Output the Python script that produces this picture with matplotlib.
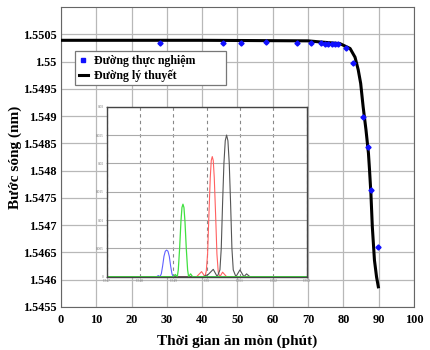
import matplotlib
matplotlib.use('Agg')
import matplotlib.pyplot as plt
from matplotlib.ticker import FuncFormatter, MultipleLocator

plt.rcParams['font.family'] = ['Liberation Serif', 'DejaVu Serif']

# measured points (etching time in minutes, wavelength in um)
exp_time = [28, 45.8, 50.9, 58, 66.8, 70.8, 73.8, 74.8, 75.7, 76.7, 77.6, 78.6,
            80.7, 82.8, 85.6, 86.9, 87.8, 89.9]
exp_wl = [1.55034, 1.55034, 1.55034, 1.55035, 1.55034, 1.55034, 1.55034, 1.55033,
          1.55033, 1.55033, 1.55032, 1.55032, 1.55024, 1.54998, 1.54899, 1.54843,
          1.54765, 1.54660]

# theory curve
th_time = [0, 40, 70, 73.4, 79.0, 81.9, 83.3, 84.2, 84.9, 85.6, 86.4, 87.1,
           87.4, 87.8, 88.2, 88.8, 89.4, 89.9]
th_wl = [1.55039, 1.55039, 1.55038, 1.55036, 1.55033, 1.55024, 1.55008, 1.54985,
         1.54960, 1.54917, 1.54875, 1.54832, 1.54802, 1.54758, 1.54697, 1.54636,
         1.54605, 1.54587]

y_ticks = [1.5455, 1.546, 1.5465, 1.547, 1.5475, 1.548, 1.5485, 1.549, 1.5495, 1.55, 1.5505]

# inset spectra (wavelength, power)
blue_x = [1.547, 1.5485, 1.54855, 1.5486, 1.54864, 1.54868, 1.54872, 1.54876, 1.5488,
          1.54884, 1.54888, 1.54892, 1.54896, 1.549, 1.54905, 1.5491, 1.553]
blue_y = [0, 0, 0.0002, 0, 0.0005, 0.0019, 0.0036, 0.0045, 0.0047,
          0.0045, 0.0036, 0.0019, 0.0005, 0, 0.0002, 0, 0]
green_x = [1.547, 1.5490, 1.54906, 1.54912, 1.54915, 1.54919, 1.54923, 1.54926, 1.54929,
           1.54932, 1.54935, 1.54939, 1.54943, 1.54946, 1.54952, 1.54958, 1.553]
green_y = [0, 0, 0.0004, 0, 0.0012, 0.0050, 0.0098, 0.0122, 0.0128,
           0.0122, 0.0098, 0.0050, 0.0012, 0, 0.0005, 0, 0]
red_x = [1.547, 1.5497, 1.54985, 1.54995, 1.54999, 1.55003, 1.55007, 1.55011, 1.55014,
         1.55017, 1.5502, 1.55023, 1.55027, 1.55031, 1.55035, 1.5504, 1.55048, 1.5506, 1.553]
red_y = [0, 0, 0.0009, 0, 0.0010, 0.0040, 0.0110, 0.0175, 0.0205,
         0.0212, 0.0205, 0.0175, 0.0110, 0.0040, 0.0008, 0, 0.0008, 0, 0]
black_x = [1.547, 1.5499, 1.55005, 1.5502, 1.55032, 1.5504, 1.55044, 1.55048, 1.55052,
           1.55056, 1.5506, 1.55064, 1.55068, 1.55072, 1.55076, 1.5508, 1.55088,
           1.551, 1.55112, 1.5512, 1.5513, 1.553]
black_y = [0, 0, 0.0004, 0.0013, 0, 0.0012, 0.0050, 0.0130, 0.0200,
           0.0240, 0.0250, 0.0240, 0.0200, 0.0130, 0.0050, 0.0012, 0,
           0.0012, 0, 0.0005, 0, 0]

fig = plt.figure(figsize=(4.31, 3.5), dpi=100)
ax = fig.add_axes([0.1415, 0.1229, 0.819, 0.857])

ax.plot(th_time, th_wl, color='black', lw=2.2, label='Đường lý thuyết', zorder=3)
ax.plot(exp_time, exp_wl, ls='none', marker='D', ms=2.6, color='#1010ff',
        label='Đường thực nghiệm', zorder=4)

ax.set_xlim(0, 100)
ax.set_ylim(1.5455, 1.551)
ax.xaxis.set_major_locator(MultipleLocator(10))
ax.set_yticks(y_ticks)
ax.yaxis.set_major_formatter(FuncFormatter(lambda v, p: '%g' % round(v, 4)))
ax.grid(True, color='#b8b8b8', lw=0.9)
ax.tick_params(length=0, labelsize=8.8)
ax.tick_params(axis='y', pad=3)
ax.tick_params(axis='x', pad=5)
for lab in ax.get_xticklabels() + ax.get_yticklabels():
    lab.set_fontweight('bold')
for s in ax.spines.values():
    s.set_color('#666666')
ax.set_xlabel('Thời gian ăn mòn (phút)', fontsize=11, fontweight='bold', labelpad=6)
ax.set_ylabel('Bước sóng (nm)', fontsize=11, fontweight='bold', labelpad=1)

handles, labels = ax.get_legend_handles_labels()
leg = ax.legend(handles[::-1], labels[::-1], loc='upper left',
                bbox_to_anchor=(0.04, 0.737, 0.427, 0.115), mode='expand',
                prop={'weight': 'bold', 'size': 8.6},
                fancybox=False, framealpha=1, edgecolor='#777777',
                handlelength=0.8, handletextpad=0.5, borderpad=0.3,
                labelspacing=0.2, markerscale=1.3, borderaxespad=0)
leg.get_frame().set_linewidth(0.9)
leg.legend_handles[0].set_marker('s')

# inset with the spectra
axi = fig.add_axes([0.2475, 0.2094, 0.4637, 0.4857])
axi.plot(blue_x, blue_y, color='#6060ff', lw=0.8)
axi.plot(red_x, red_y, color='#ff6060', lw=0.8)
axi.plot(black_x, black_y, color='#555555', lw=0.8)
axi.plot(green_x, green_y, color='#40e040', lw=0.9)
axi.set_xlim(1.547, 1.553)
axi.set_ylim(0, 0.03)
axi.set_xticks([1.547, 1.548, 1.549, 1.55, 1.551, 1.552, 1.553])
axi.set_xticklabels(['1.547', '1.548', '1.549', '1.55', '1.551', '1.552', '1.553'])
axi.set_yticks([0, 0.005, 0.01, 0.015, 0.02, 0.025, 0.03])
axi.set_yticklabels(['0', '0.005', '0.01', '0.015', '0.02', '0.025', '0.03'])
axi.tick_params(labelsize=2.5, length=1, width=0.4, pad=1, colors='#777777')
axi.xaxis.grid(True, ls=(0, (3, 3)), color='#888888', lw=0.8)
axi.yaxis.grid(True, color='#aaaaaa', lw=0.8)
for s in axi.spines.values():
    s.set_color('#444444')
    s.set_linewidth(1.0)

fig.savefig('out.png', dpi=100)
